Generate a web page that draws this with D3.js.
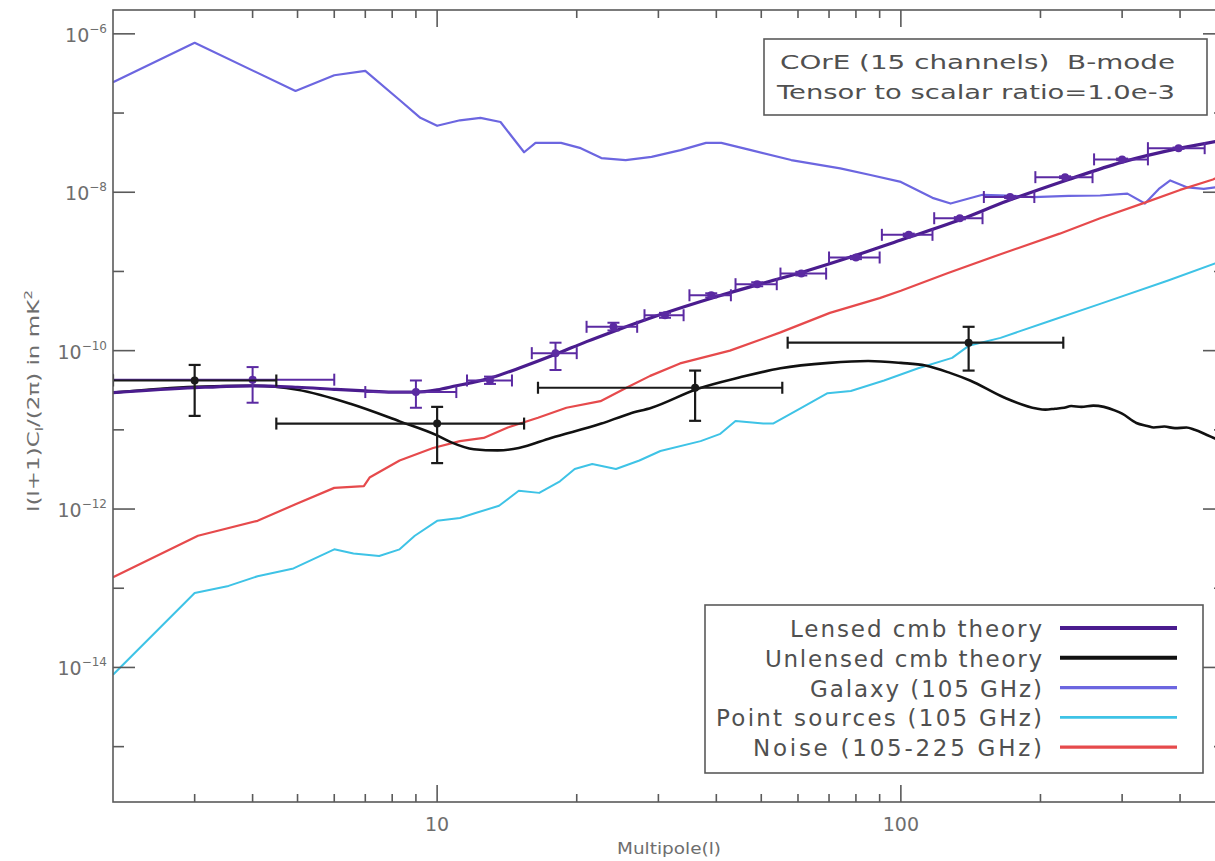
<!DOCTYPE html>
<html>
<head>
<meta charset="utf-8">
<script src="https://cdn.jsdelivr.net/npm/d3@7/dist/d3.min.js"></script>
<style>
  html, body { margin: 0; padding: 0; background: #fff; }
  svg { display: block; }
  text { font-family: "DejaVu Sans", "Liberation Sans", sans-serif; }
</style>
</head>
<body>
<svg id="chart" width="1215" height="861"></svg>
<script>
// ---- data -------------------------------------------------------------
// Lensed CMB B-mode theory
const lensedL  = [2, 3, 4, 5, 6, 7, 8, 9, 10, 11, 12, 13, 15, 18, 21, 24, 30, 40, 50, 62, 80, 100, 130, 170, 230, 300, 400, 500];
const lensedCl = [2.95e-11, 3.4e-11, 3.6e-11, 3.45e-11, 3.25e-11, 3.1e-11, 3.0e-11, 3.0e-11, 3.2e-11, 3.6e-11, 4.0e-11, 4.5e-11, 6.0e-11, 9.0e-11, 1.3e-10, 1.75e-10, 2.8e-10, 4.8e-10, 7.0e-10, 1.0e-9, 1.6e-9, 2.5e-9, 4.2e-9, 7.8e-9, 1.45e-8, 2.4e-8, 3.6e-8, 4.6e-8];

// Unlensed (primordial) CMB B-mode theory
const unlensedL  = [2, 3, 4, 5, 6.5, 8.3, 10, 10.7, 12, 13.5, 15, 17.6, 22.6, 26, 29, 36.5, 45, 55, 70, 85, 100, 113, 128, 141, 167, 196, 205, 215, 225, 233, 245, 260, 274, 290, 300, 322, 340, 351, 370, 390, 413, 430, 450, 475, 500];
const unlensedCl = [2.95e-11, 3.5e-11, 3.6e-11, 3.2e-11, 2.13e-11, 1.28e-11, 8.5e-12, 7.0e-12, 5.7e-12, 5.5e-12, 5.9e-12, 7.9e-12, 1.2e-11, 1.6e-11, 1.9e-11, 3.3e-11, 4.6e-11, 6.0e-11, 7.0e-11, 7.4e-11, 7.0e-11, 6.5e-11, 5.2e-11, 4.2e-11, 2.56e-11, 1.86e-11, 1.8e-11, 1.85e-11, 1.9e-11, 2.0e-11, 1.95e-11, 2.02e-11, 1.95e-11, 1.75e-11, 1.6e-11, 1.22e-11, 1.12e-11, 1.07e-11, 1.1e-11, 1.05e-11, 1.07e-11, 1.0e-11, 9.0e-12, 7.8e-12, 6.8e-12];

// Galactic foreground at 105 GHz
const galaxyL  = [2, 3, 4.95, 6, 7, 8.3, 9.2, 10, 11.2, 12.4, 13.7, 15.4, 16.3, 18.5, 20.4, 22.6, 25.5, 29, 33.5, 38, 41, 47.5, 58, 74, 86, 100, 117, 128, 150, 170, 193, 230, 269, 308, 336, 360, 381, 415, 450, 476, 500];
const galaxyCl = [2.45e-7, 7.7e-7, 1.9e-7, 3.0e-7, 3.4e-7, 1.46e-7, 8.7e-8, 6.9e-8, 8.1e-8, 8.7e-8, 7.7e-8, 3.2e-8, 4.2e-8, 4.2e-8, 3.6e-8, 2.7e-8, 2.55e-8, 2.8e-8, 3.4e-8, 4.2e-8, 4.2e-8, 3.4e-8, 2.55e-8, 2.0e-8, 1.65e-8, 1.35e-8, 8.5e-9, 7.2e-9, 9.3e-9, 9.1e-9, 8.7e-9, 9.0e-9, 9.1e-9, 9.6e-9, 7.2e-9, 1.1e-8, 1.41e-8, 1.15e-8, 1.1e-8, 1.15e-8, 1.15e-8];

// Point sources at 105 GHz
const pointsL  = [2, 3, 3.55, 4.1, 4.9, 6.0, 6.6, 7.5, 8.3, 8.95, 10, 11.2, 12.1, 13.6, 15, 16.6, 18.4, 19.8, 21.6, 24.3, 27.3, 30.3, 37, 40.8, 44, 50.5, 53, 61, 69.5, 78, 92, 109, 129, 140, 164, 211, 269, 377, 476, 500];
const pointsCl = [8.1e-15, 8.7e-14, 1.07e-13, 1.42e-13, 1.78e-13, 3.1e-13, 2.75e-13, 2.55e-13, 3.1e-13, 4.6e-13, 7.1e-13, 7.7e-13, 8.9e-13, 1.1e-12, 1.7e-12, 1.6e-12, 2.24e-12, 3.2e-12, 3.7e-12, 3.2e-12, 4.1e-12, 5.4e-12, 7.2e-12, 8.9e-12, 1.29e-11, 1.2e-11, 1.2e-11, 1.9e-11, 2.9e-11, 3.1e-11, 4.2e-11, 6.0e-11, 8.1e-11, 1.15e-10, 1.45e-10, 2.4e-10, 3.9e-10, 7.7e-10, 1.26e-9, 1.35e-9];

// Instrumental noise, 105-225 GHz combination
const noiseL  = [2, 3.05, 4.1, 4.95, 6.0, 6.95, 7.15, 8.3, 9.8, 11.2, 12.6, 14.2, 16.5, 19, 22.5, 25.6, 28.8, 33.4, 42.8, 55, 70.3, 90, 100, 126, 164, 220, 269, 336, 400, 471, 500];
const noiseCl = [1.38e-13, 4.6e-13, 7.1e-13, 1.15e-12, 1.85e-12, 1.95e-12, 2.5e-12, 4.1e-12, 5.9e-12, 7.2e-12, 7.9e-12, 1.07e-11, 1.42e-11, 1.9e-11, 2.3e-11, 3.4e-11, 4.8e-11, 6.9e-11, 1.0e-10, 1.7e-10, 3.0e-10, 4.6e-10, 5.7e-10, 9.5e-10, 1.65e-9, 3.0e-9, 4.7e-9, 7.4e-9, 1.07e-8, 1.45e-8, 1.7e-8];

// Binned lensed B-mode band powers (bin centre, bin edges, value, error range)
const lensBinL   = [4, 9, 13, 18, 24, 31, 39, 49, 61, 80, 104, 134, 172, 226, 300, 397];
const lensBinLo  = [2, 7, 11.6, 16, 21, 28, 35, 44, 55, 70, 91, 118, 151, 195, 261, 341];
const lensBinHi  = [6, 11, 14.5, 20, 27, 34, 43, 54, 69, 90, 117, 150, 194, 259, 341, 452];
const lensBinCl  = [4.3e-11, 3.0e-11, 4.2e-11, 9.3e-11, 2.0e-10, 2.8e-10, 5.0e-10, 6.9e-10, 9.4e-10, 1.5e-9, 2.9e-9, 4.7e-9, 8.7e-9, 1.55e-8, 2.6e-8, 3.6e-8];
const lensBinErrLo = [2.2e-11, 1.9e-11, 3.8e-11, 5.7e-11, 1.8e-10, 2.6e-10, 4.7e-10, 6.5e-10, 8.9e-10, 1.43e-9, 2.8e-9, 4.55e-9, 8.45e-9, 1.51e-8, 2.54e-8, 3.53e-8];
const lensBinErrHi = [6.2e-11, 4.2e-11, 4.7e-11, 1.26e-10, 2.25e-10, 3.0e-10, 5.3e-10, 7.3e-10, 9.9e-10, 1.57e-9, 3.0e-9, 4.85e-9, 8.95e-9, 1.59e-8, 2.66e-8, 3.67e-8];

// Binned primordial B-mode band powers
const primBinL   = [3, 10, 36, 140];
const primBinLo  = [2, 4.5, 16.5, 57];
const primBinHi  = [4.5, 15.4, 55.5, 224];
const primBinCl  = [4.2e-11, 1.2e-11, 3.4e-11, 1.26e-10];
const primBinErrLo = [1.5e-11, 3.8e-12, 1.3e-11, 5.6e-11];
const primBinErrHi = [6.6e-11, 1.95e-11, 5.6e-11, 2.0e-10];

// Axis ticks
const xMajorTicks = [10, 100];
const xMinorTicks = [3, 4, 5, 6, 7, 8, 9, 20, 30, 40, 50, 60, 70, 80, 90, 200, 300, 400];
const yTickExps = [-6, -7, -8, -9, -10, -11, -12, -13, -14, -15];
const yLabelExps = [-6, -8, -10, -12, -14];

// Legend and annotation text
const legendLabels = ["Lensed cmb theory", "Unlensed cmb theory", "Galaxy (105 GHz)", "Point sources (105 GHz)", "Noise (105-225 GHz)"];
const titleLines = ["COrE (15 channels)\u00a0\u00a0B-mode", "Tensor to scalar ratio=1.0e-3"];

// ---- layout -----------------------------------------------------------
const svg = d3.select("#chart");
const X0 = 113, X1 = 1225, Y0 = 10, Y1 = 802;
const x = d3.scaleLog().domain([2, 500]).range([X0, X1]);
const y = d3.scaleLog().domain([2e-16, 2e-6]).range([Y1, Y0]);

const axisColor = "#5a5a5a";
const labelColor = "#6e6e6e";
const colors = {
  lensed: "#4a1c8e",
  unlensed: "#111111",
  galaxy: "#6c66e0",
  points: "#3ec3e6",
  noise: "#e64a4c",
  lensBar: "#5b2aa2"
};

svg.append("defs").append("clipPath").attr("id", "plotclip")
  .append("rect").attr("x", X0).attr("y", Y0).attr("width", X1 - X0).attr("height", Y1 - Y0);

const plot = svg.append("g").attr("clip-path", "url(#plotclip)");

function zipped(ls, cs) { return ls.map((l, i) => [l, cs[i]]); }
const smoothLine = d3.line().x(d => x(d[0])).y(d => y(d[1])).curve(d3.curveMonotoneX);
const straightLine = d3.line().x(d => x(d[0])).y(d => y(d[1]));

// Curves: foregrounds and noise as tabulated segments, theory spectra smooth
const series = [
  { key: "galaxy", L: galaxyL, C: galaxyCl, w: 2.2, gen: straightLine },
  { key: "points", L: pointsL, C: pointsCl, w: 2.0, gen: straightLine },
  { key: "noise", L: noiseL, C: noiseCl, w: 2.2, gen: straightLine },
  { key: "unlensed", L: unlensedL, C: unlensedCl, w: 2.6, gen: smoothLine },
  { key: "lensed", L: lensedL, C: lensedCl, w: 3.2, gen: smoothLine }
];
series.forEach(s => {
  plot.append("path")
    .datum(zipped(s.L, s.C))
    .attr("d", s.gen)
    .attr("fill", "none")
    .attr("stroke", colors[s.key])
    .attr("stroke-width", s.w)
    .attr("stroke-linejoin", "round");
});

// Error bars with end caps
function errorBars(Ls, Lo, Hi, Cl, Elo, Ehi, color, width, cap, r) {
  const g = plot.append("g").attr("stroke", color).attr("stroke-width", width).attr("fill", "none");
  Ls.forEach((l, i) => {
    const cx = x(l), cy = y(Cl[i]);
    const xl = x(Lo[i]), xr = x(Hi[i]);
    const yt = y(Ehi[i]), yb = y(Elo[i]);
    g.append("line").attr("x1", xl).attr("x2", xr).attr("y1", cy).attr("y2", cy);
    g.append("line").attr("x1", xl).attr("x2", xl).attr("y1", cy - cap).attr("y2", cy + cap);
    g.append("line").attr("x1", xr).attr("x2", xr).attr("y1", cy - cap).attr("y2", cy + cap);
    g.append("line").attr("x1", cx).attr("x2", cx).attr("y1", yt).attr("y2", yb);
    g.append("line").attr("x1", cx - cap).attr("x2", cx + cap).attr("y1", yt).attr("y2", yt);
    g.append("line").attr("x1", cx - cap).attr("x2", cx + cap).attr("y1", yb).attr("y2", yb);
    plot.append("circle").attr("cx", cx).attr("cy", cy).attr("r", r).attr("fill", color);
  });
}
errorBars(lensBinL, lensBinLo, lensBinHi, lensBinCl, lensBinErrLo, lensBinErrHi, colors.lensBar, 2, 6, 4);
errorBars(primBinL, primBinLo, primBinHi, primBinCl, primBinErrLo, primBinErrHi, "#1a1a1a", 2.2, 6, 4);

// ---- frame and ticks --------------------------------------------------
const frame = svg.append("g").attr("stroke", axisColor).attr("stroke-width", 1.6);
frame.append("rect").attr("x", X0).attr("y", Y0).attr("width", X1 - X0).attr("height", Y1 - Y0).attr("fill", "none");

xMajorTicks.concat(xMinorTicks).forEach(t => {
  const len = xMajorTicks.includes(t) ? 17 : 8;
  frame.append("line").attr("x1", x(t)).attr("x2", x(t)).attr("y1", Y1).attr("y2", Y1 - len);
  frame.append("line").attr("x1", x(t)).attr("x2", x(t)).attr("y1", Y0).attr("y2", Y0 + len);
});
yTickExps.forEach(e => {
  const len = yLabelExps.includes(e) ? 22 : 11;
  const yy = y(Math.pow(10, e));
  frame.append("line").attr("x1", X0).attr("x2", X0 + len).attr("y1", yy).attr("y2", yy);
  frame.append("line").attr("x1", X1).attr("x2", X1 - len).attr("y1", yy).attr("y2", yy);
});

// Tick labels
xMajorTicks.forEach(t => {
  svg.append("text").attr("x", x(t)).attr("y", 831)
    .attr("text-anchor", "middle").attr("font-size", 19).attr("fill", labelColor)
    .text(String(t));
});
yLabelExps.forEach(e => {
  const t = svg.append("text").attr("x", 107).attr("y", y(Math.pow(10, e)) + 8)
    .attr("text-anchor", "end").attr("fill", labelColor);
  t.append("tspan").attr("font-size", 19).text("10");
  t.append("tspan").attr("font-size", 12).attr("dy", -9).text("\u2212" + Math.abs(e));
});

// Axis titles
svg.append("text").attr("x", (X0 + X1) / 2).attr("y", 854)
  .attr("text-anchor", "middle").attr("font-size", 15).attr("fill", labelColor)
  .attr("textLength", 104).attr("lengthAdjust", "spacingAndGlyphs")
  .text("Multipole(l)");

const yt = svg.append("text")
  .attr("transform", "translate(39,401) rotate(-90)")
  .attr("text-anchor", "middle").attr("font-size", 15).attr("fill", labelColor)
  .attr("textLength", 222).attr("lengthAdjust", "spacingAndGlyphs");
yt.append("tspan").text("l(l+1)C");
yt.append("tspan").attr("font-size", 10).attr("dy", 4).text("l");
yt.append("tspan").attr("dy", -4).text("/(2\u03c0) in mK");
yt.append("tspan").attr("font-size", 10).attr("dy", -7).text("2");

// ---- annotation box ---------------------------------------------------
svg.append("rect").attr("x", 764).attr("y", 39).attr("width", 443).attr("height", 76)
  .attr("fill", "#fff").attr("stroke", axisColor).attr("stroke-width", 1.6);
const titleWidths = [395, 398];
const titleX = [780, 777];
const titleY = [69, 99];
titleLines.forEach((s, i) => {
  svg.append("text").attr("x", titleX[i]).attr("y", titleY[i])
    .attr("font-size", 20).attr("fill", "#505050")
    .attr("textLength", titleWidths[i]).attr("lengthAdjust", "spacingAndGlyphs")
    .text(s);
});

// ---- legend -----------------------------------------------------------
svg.append("rect").attr("x", 705).attr("y", 605).attr("width", 498).attr("height", 168)
  .attr("fill", "#fff").attr("stroke", axisColor).attr("stroke-width", 1.6);
const legendKeys = ["lensed", "unlensed", "galaxy", "points", "noise"];
const legendWidths = [252, 277, 232, 326, 289];
const legendWeights = [4, 4, 3.2, 2.6, 3.2];
legendLabels.forEach((s, i) => {
  const base = 637 + i * 29.8;
  svg.append("text").attr("x", 1042).attr("y", base)
    .attr("text-anchor", "end").attr("font-size", 23).attr("fill", "#505050")
    .attr("textLength", legendWidths[i]).attr("lengthAdjust", "spacing")
    .text(s);
  svg.append("line").attr("x1", 1060).attr("x2", 1177)
    .attr("y1", base - 9).attr("y2", base - 9)
    .attr("stroke", colors[legendKeys[i]]).attr("stroke-width", legendWeights[i]);
});
</script>
</body>
</html>
